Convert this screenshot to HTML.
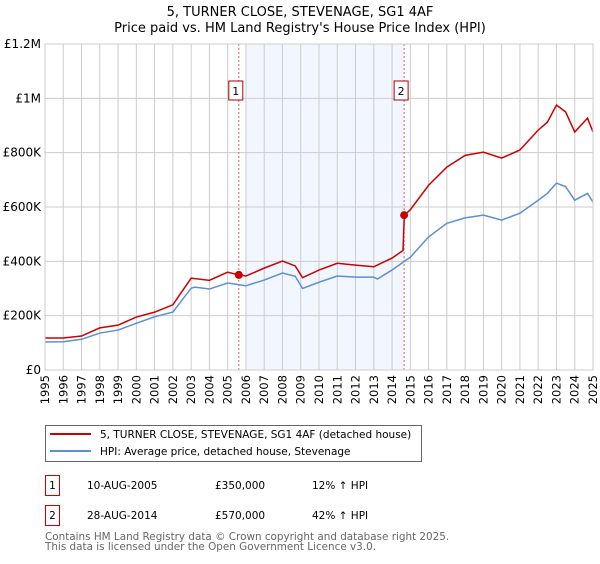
<!DOCTYPE html>
<html><head><meta charset="utf-8"><style>
body{margin:0;background:#fff;font-family:"DejaVu Sans","Liberation Sans",sans-serif;}
svg text{font-family:"DejaVu Sans","Liberation Sans",sans-serif;}
</style></head><body>
<svg id="chart" width="600" height="560" xmlns="http://www.w3.org/2000/svg">
<text x="300" y="16" text-anchor="middle" font-size="13">5, TURNER CLOSE, STEVENAGE, SG1 4AF</text>
<text x="300" y="32" text-anchor="middle" font-size="13">Price paid vs. HM Land Registry's House Price Index (HPI)</text>
<g id="plot"></g>
<rect x="45.5" y="425.5" width="376" height="36" fill="#fff" stroke="#666"/>
<line x1="50" y1="434" x2="91" y2="434" stroke="#cc0000" stroke-width="2"/>
<text x="100" y="438" font-size="10.5">5, TURNER CLOSE, STEVENAGE, SG1 4AF (detached house)</text>
<line x1="50" y1="451" x2="91" y2="451" stroke="#5b8fd6" stroke-width="2"/>
<text x="100" y="455" font-size="10.5">HPI: Average price, detached house, Stevenage</text>
<g font-size="10.5">
<rect x="45.5" y="475.5" width="14" height="20" fill="none" stroke="#cc0000"/>
<text x="52.5" y="489" text-anchor="middle">1</text>
<text x="87" y="489">10-AUG-2005</text><text x="215" y="489">£350,000</text><text x="312" y="489">12% ↑ HPI</text>
</g>
<g font-size="10.5">
<rect x="45.5" y="505.5" width="14" height="20" fill="none" stroke="#cc0000"/>
<text x="52.5" y="519" text-anchor="middle">2</text>
<text x="87" y="519">28-AUG-2014</text><text x="215" y="519">£570,000</text><text x="312" y="519">42% ↑ HPI</text>
</g>
<text x="45" y="540" font-size="10.4" fill="#666">Contains HM Land Registry data © Crown copyright and database right 2025.</text>
<text x="45" y="550" font-size="10.4" fill="#666">This data is licensed under the Open Government Licence v3.0.</text>
</svg>
<script>
const hpiYears=[1995,1996,1997,1998,1999,2000,2001,2002,2003,2003.2,2004,2005,2006,2007,2008,2008.7,2009.1,2010,2011,2012,2013,2013.2,2014,2014.67,2015,2016,2017,2018,2019,2020,2021,2022,2022.5,2023,2023.5,2024,2024.7,2025];
const hpiValues=[103,104,113,136,147,172,196,213,301,305,298,320,310,331,357,345,300,323,346,342,342,335,368,400,415,490,540,560,570,552,577,625,650,688,675,625,650,618];
const propYears=[1995,1996,1997,1998,1999,2000,2001,2002,2003,2004,2005,2005.6,2006,2007,2008,2008.7,2009.1,2010,2011,2012,2013,2014,2014.6,2014.67,2015,2016,2017,2018,2019,2020,2021,2022,2022.5,2023,2023.5,2024,2024.7,2025];
const propValues=[118,118,125,155,165,195,213,240,338,330,360,350,346,375,401,383,340,368,393,386,380,412,440,570,590,680,747,790,802,780,810,883,912,975,950,876,927,876];
const saleYears=[2005.61,2014.66];
const saleValues=[350,570];
const saleLabels=["1","2"];
const yTicks=[0,200,400,600,800,1000,1200];
const yTickLabels=["£0","£200K","£400K","£600K","£800K","£1M","£1.2M"];
const xTicks=[1995,1996,1997,1998,1999,2000,2001,2002,2003,2004,2005,2006,2007,2008,2009,2010,2011,2012,2013,2014,2015,2016,2017,2018,2019,2020,2021,2022,2023,2024,2025];
const shadeRange=[2006,2014.66];

const X0=45,X1=593,Y0=370,Y1=44;
const xs=y=>X0+(y-1995)/30*(X1-X0);
const ys=v=>Y0-v/1200*(Y0-Y1);
const NS="http://www.w3.org/2000/svg";
const plot=document.getElementById('plot');
function mk(t,a){const e=document.createElementNS(NS,t);for(const k in a)e.setAttribute(k,a[k]);plot.appendChild(e);return e;}

let r=mk('rect',{x:xs(shadeRange[0]),y:Y1,width:xs(shadeRange[1])-xs(shadeRange[0]),height:Y0-Y1,fill:'#eef3fd',opacity:0.75});


xTicks.forEach(t=>{
  const l=mk('line',{x1:xs(t),x2:xs(t),y1:Y1,y2:Y0,stroke:'#ccc','stroke-width':1});
  
  
  const tx=mk('text',{x:0,y:0,'font-size':11.5,'text-anchor':'end',transform:`translate(${xs(t)+4},${Y0+5}) rotate(-90)`});
  tx.textContent=t;
  
  
});
yTicks.forEach((t,i)=>{
  const l=mk('line',{x1:X0,x2:X1,y1:ys(t),y2:ys(t),stroke:'#ccc','stroke-width':1});
  
  
  const tx=mk('text',{x:X0-4,y:ys(t)+4,'font-size':12,'text-anchor':'end'});
  tx.textContent=yTickLabels[i];
  
  
});
saleYears.forEach((y,i)=>{
  const l=mk('line',{x1:xs(y),x2:xs(y),y1:Y1,y2:Y0,stroke:'#e06060','stroke-width':1,'stroke-dasharray':'2,2'});
  
  
  const b=mk('rect',{x:xs(y)-10,y:81,width:14,height:19,fill:'#fff',stroke:'#aa0000'});
  
  
  const tx=mk('text',{x:xs(y)-3,y:95,'font-size':11,'text-anchor':'middle'});
  tx.textContent=saleLabels[i];
  
  
});
const hp=mk('polyline',{points:hpiYears.map((y,i)=>xs(y)+','+ys(hpiValues[i])).join(' '),fill:'none',stroke:'#5b8fd6','stroke-width':1.5});


const pp=mk('polyline',{points:propYears.map((y,i)=>xs(y)+','+ys(propValues[i])).join(' '),fill:'none',stroke:'#cc0000','stroke-width':1.5});


saleYears.forEach((y,i)=>{
  const c=mk('circle',{cx:xs(y),cy:ys(saleValues[i]),r:4,fill:'#cc0000'});
  
  
});
const ax=mk('rect',{x:X0,y:Y1,width:X1-X0,height:Y0-Y1,fill:'none',stroke:'#ccc'});


</script>
</body></html>
